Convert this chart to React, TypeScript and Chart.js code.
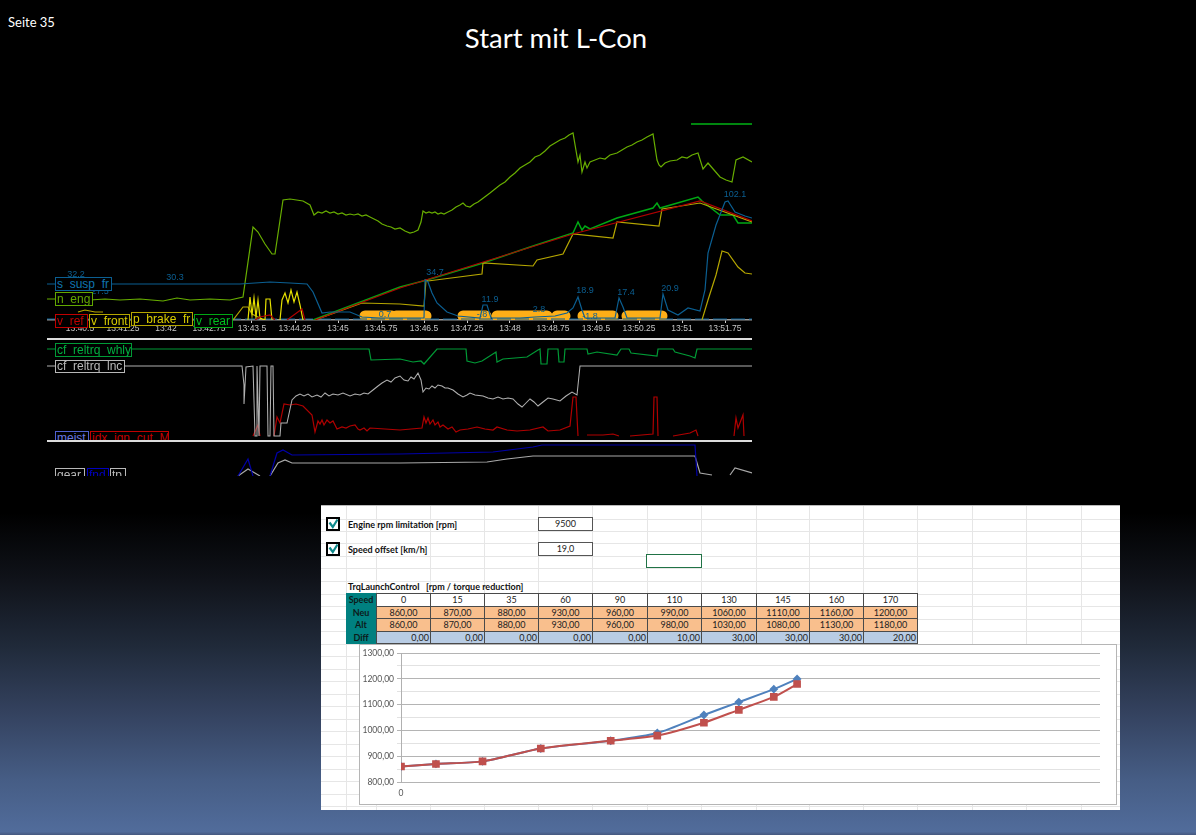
import React, { useEffect, useRef } from "react";
import { Chart, registerables } from "chart.js";

Chart.register(...registerables);

// ---------- telemetry: x = sample number along the time axis, y = channel value ----------
type P = [number, number | null];

const timeTickSamples = [80, 123, 166, 209, 252, 295, 338, 381, 424, 467, 510, 553, 596, 639, 682, 725];
const timeTickLabels = ["13:40.5", "13:41.25", "13:42", "13:42.75", "13:43.5", "13:44.25", "13:45", "13:45.75", "13:46.5", "13:47.25", "13:48", "13:48.75", "13:49.5", "13:50.25", "13:51", "13:51.75"];

const nEng: P[] = [[47,21],[60,21],[75,22],[90,20],[105,21],[120,20],[140,21],[163,19],[177,22],[190,20],[210,21],[230,20],[243,23],[253,93],[258,88],[265,76],[272,66],[275,66],[283,120],[290,121],[303,119],[310,115],[314,105],[318,108],[322,107],[326,109],[330,107],[334,108],[338,106],[342,107],[346,105],[350,106],[354,105],[358,106],[362,104],[366,105],[370,103],[374,101],[378,99],[382,96],[387,94],[391,93],[395,91],[400,92],[405,89],[410,87],[414,88],[418,90],[421,98],[423,109],[426,107],[429,108],[432,107],[435,108],[438,106],[441,107],[444,106],[448,108],[452,110],[456,113],[460,115],[463,117],[466,114],[470,113],[474,116],[478,118],[482,121],[486,124],[490,127],[495,131],[500,135],[505,138],[510,143],[515,147],[520,152],[525,155],[530,158],[535,163],[540,165],[545,169],[550,174],[555,177],[560,180],[565,182],[569,185],[573,187],[578,158],[580,165],[582,148],[585,158],[587,152],[590,158],[595,160],[600,162],[605,161],[610,165],[617,167],[622,170],[627,173],[632,175],[637,178],[642,180],[647,183],[653,186],[657,160],[659,155],[661,153],[665,157],[670,159],[677,160],[682,163],[687,162],[692,165],[698,167],[703,151],[708,157],[714,150],[720,143],[726,140],[732,138],[736,160],[743,163],[752,158]];
const sSuspFr: P[] = [[47,36],[120,36],[175,36],[240,36],[270,38],[290,37],[307,36],[313,28],[322,7],[330,8],[350,8],[362,3],[380,2],[400,2],[420,2],[424,2],[425,40],[428,38],[432,27],[437,17],[447,8],[458,4],[480,2],[483,15],[487,15],[491,2],[520,2],[535,3],[555,4],[567,7],[573,12],[578,23],[582,10],[585,2],[615,2],[619,22],[623,13],[627,2],[660,2],[663,26],[668,10],[678,5],[688,12],[700,9],[705,30],[708,67],[716,95],[725,118],[728,119],[735,108],[745,104],[752,102]];
const vRear: P[] = [[313,0],[400,33],[427,40],[483,57],[530,73],[573,87],[578,98],[582,90],[585,94],[590,91],[617,102],[653,112],[657,117],[660,112],[698,123],[702,119],[720,105],[733,105],[738,97],[752,97]];
const vRearHigh: P[] = [[691,196],[752,196]];
const vRef: P[] = [[255,0],[260,3],[270,5],[275,0],[276,null],[287,0],[302,11],[305,0],[306,null],[315,0],[400,32],[573,86],[700,119],[752,99]];
const vFront: P[] = [[315,0],[362,17],[400,16],[424,14],[426,40],[428,39],[482,46],[483,57],[533,54],[537,60],[563,66],[573,86],[613,82],[617,98],[659,94],[662,111],[700,117],[752,98]];
const pBrakeFr: P[] = [[248,0],[250,23],[252,5],[254,22],[256,3],[258,20],[260,2],[265,0],[266,21],[270,21],[272,0],[273,null],[280,0],[282,20],[285,27],[288,17],[291,30],[294,18],[297,28],[300,15],[303,0]];
const lowOlive: P[] = [[78,8],[85,10],[95,8],[103,8],[104,null],[233,0],[243,13],[248,13],[252,6],[262,1],[263,null],[702,0],[708,20],[716,45],[722,69],[728,67],[738,53],[745,47],[752,46]];
const shiftActive: P[] = [[365,4],[392,4],[393,null],[396,4],[426,4],[427,null],[463,4],[486,4],[487,null],[497,4],[547,4],[548,null],[557,4],[565,4],[566,null],[583,4],[613,4],[614,null],[627,4],[662,4]];
const suspZero: P[] = [[47,1],[752,1]];

const peakSamples = [76, 100, 175, 435, 490, 585, 626, 670, 735, 539, 590, 385, 482];
const peakValues = [45, 28, 42, 47, 20, 29, 27, 31, 125, 10, 3, 5, 5];
const peakTexts = ["32.2", "27.5", "30.3", "34.7", "11.9", "18.9", "17.4", "20.9", "102.1", "2.8", "-1.8", "0.7", "-.8"];

const cfWhly: P[] = [[47,91],[369,91],[371,80],[400,81],[413,78],[421,79],[424,76],[437,91],[466,91],[467,79],[475,77],[482,79],[496,88],[497,78],[503,81],[527,83],[538,90],[540,91],[541,76],[547,76],[548,91],[558,91],[559,78],[564,78],[565,91],[587,91],[588,86],[597,88],[617,85],[621,91],[629,91],[631,87],[657,84],[658,91],[673,91],[675,88],[690,84],[695,82],[697,91],[752,91]];
const cfLnc: P[] = [[47,74],[242,74],[244,55],[244,36],[246,73],[253,74],[255,4],[257,4],[257,74],[259,4],[260,74],[267,74],[268,4],[270,4],[271,74],[273,74],[274,4],[280,4],[281,17],[287,17],[292,40],[296,44],[300,46],[304,44],[308,46],[312,43],[317,45],[321,43],[325,47],[329,44],[333,46],[338,45],[343,47],[350,44],[355,46],[360,45],[364,47],[368,46],[373,50],[378,54],[382,57],[387,60],[391,58],[395,62],[400,64],[404,60],[408,59],[411,63],[414,61],[418,67],[421,60],[423,48],[426,52],[429,51],[432,54],[435,52],[438,55],[442,54],[445,52],[448,52],[453,50],[458,46],[463,43],[467,45],[470,47],[475,45],[483,44],[488,42],[493,41],[498,43],[503,41],[508,42],[513,41],[518,36],[522,33],[526,37],[530,41],[534,38],[538,34],[543,38],[548,42],[553,41],[560,39],[566,44],[572,48],[577,45],[580,74],[752,74]];
const idxIgnCut: P[] = [[253,4],[258,15],[260,4],[261,null],[274,4],[277,23],[280,17],[284,36],[290,35],[296,36],[303,34],[312,25],[315,8],[318,19],[320,16],[322,20],[324,15],[327,20],[330,17],[333,19],[337,11],[342,13],[346,12],[350,14],[355,15],[358,11],[360,10],[364,12],[367,9],[370,12],[385,11],[400,10],[422,12],[424,23],[426,17],[428,22],[430,16],[433,20],[435,15],[438,18],[440,13],[443,15],[448,11],[452,13],[456,8],[460,10],[468,11],[477,13],[485,11],[493,10],[497,13],[507,10],[517,9],[530,10],[543,13],[548,9],[560,10],[570,14],[573,43],[576,43],[578,4],[579,null],[587,5],[603,5],[613,6],[619,4],[620,null],[630,4],[653,6],[654,43],[657,43],[658,4],[659,null],[673,4],[690,7],[696,10],[698,4],[699,null],[734,4],[736,22],[738,12],[743,25],[744,4]];

const fnd: P[] = [[238,0],[248,17],[253,0],[254,null],[270,0],[277,23],[283,26],[292,21],[400,22],[493,24],[533,29],[542,31],[695,31],[697,0]];
const gear: P[] = [[238,0],[248,7],[260,0],[261,null],[270,0],[278,13],[285,16],[292,13],[400,13],[487,14],[507,17],[533,20],[695,20],[700,3],[712,1],[713,null],[730,1],[735,8],[752,3]];

// ---------- spreadsheet ----------
const speeds = [0, 15, 35, 60, 90, 110, 130, 145, 160, 170];
const neu = [860, 870, 880, 930, 960, 990, 1060, 1110, 1160, 1200];
const alt = [860, 870, 880, 930, 960, 980, 1030, 1080, 1130, 1180];
const diff = [0, 0, 0, 0, 0, 10, 30, 30, 30, 20];

const comma = (v: number) => v.toFixed(2).replace(".", ",");
const toPts = (a: P[]) => a.map(([x, y]) => ({ x, y }));

const line = (label: string, data: P[], color: string, width = 1.2, extra: object = {}) => ({
  label,
  data: toPts(data),
  borderColor: color,
  borderWidth: width,
  pointRadius: 0,
  tension: 0,
  spanGaps: false,
  ...extra,
});

const baseOptions = (yMax: number, showAxis: boolean) => ({
  responsive: false,
  animation: false as const,
  events: [] as never[],
  layout: { padding: 0 },
  plugins: { legend: { display: false }, tooltip: { enabled: false } },
  scales: {
    x: {
      type: "linear" as const,
      min: 47,
      max: 752,
      display: showAxis,
      border: { color: "#9a9a9a", width: 1.5 },
      grid: { drawOnChartArea: false, color: "#cfcfcf", tickLength: 3, drawTicks: true },
      afterBuildTicks: (s: any) => {
        s.ticks = timeTickSamples.map((value) => ({ value }));
      },
      afterFit: (s: any) => {
        if (showAxis) s.height = 18;
      },
      ticks: {
        autoSkip: false,
        maxRotation: 0,
        padding: 1,
        color: "#c8c8c8",
        font: { family: "Liberation Sans", size: 8.5 },
        callback: (v: number) => timeTickLabels[timeTickSamples.indexOf(v)] ?? "",
      },
    },
    y: { type: "linear" as const, min: 0, max: yMax, display: false },
  },
});

const peakLabelPlugin = {
  id: "peakLabels",
  afterDatasetsDraw(chart: any) {
    const { ctx, scales } = chart;
    ctx.save();
    ctx.fillStyle = "#0b5f92";
    ctx.font = "9px 'Liberation Sans'";
    ctx.textAlign = "center";
    ctx.textBaseline = "middle";
    peakTexts.forEach((t, i) => {
      ctx.fillText(t, scales.x.getPixelForValue(peakSamples[i]), scales.y.getPixelForValue(peakValues[i]));
    });
    ctx.restore();
  },
};

function useChart(build: (c: HTMLCanvasElement) => Chart) {
  const ref = useRef<HTMLCanvasElement>(null);
  useEffect(() => {
    const chart = build(ref.current as HTMLCanvasElement);
    return () => chart.destroy();
  }, []);
  return ref;
}

const abs = (left: number, top: number, width: number, height: number): React.CSSProperties => ({
  position: "absolute", left, top, width, height,
});

function Tag({ x, y, w, h, color, text, textColor }: { x: number; y: number; w: number; h: number; color: string; text: string; textColor?: string }) {
  return (
    <div style={{
      ...abs(x, y, w, h), boxSizing: "border-box", border: `1px solid ${color}`, background: "#000",
      color: textColor ?? color, font: "12px 'Liberation Sans'",
      lineHeight: `${h - 2}px`, paddingLeft: 1, whiteSpace: "nowrap", overflow: "hidden",
    }}>{text}</div>
  );
}

function Check({ y }: { y: number }) {
  return (
    <svg style={abs(326, y, 14, 14)} viewBox="0 0 14 14">
      <rect x="1" y="1" width="12" height="12" fill="#fff" stroke="#000" strokeWidth="2" />
      <path d="M3.5 5.5 L6.8 10 L11.5 2.5" fill="none" stroke="#0f8a8c" strokeWidth="2.2" />
    </svg>
  );
}

const colXs = [376, 430, 484, 538, 592, 647, 701, 756, 809, 863, 917];
const sheetCols = [346, 376, 430, 484, 538, 592, 647, 701, 756, 809, 863, 917, 972, 1026, 1081];
const sheetRows = [518, 530, 542, 555, 567, 580, 593, 605, 618, 630, 643, 655, 668, 680, 693, 705, 718, 730, 743, 755, 768, 780, 793, 805];
const rowTops = [593, 605.5, 618, 630.5];

function Cell({ x, w, y, text, bg, right, bold }: { x: number; w: number; y: number; text: string; bg: string; right?: boolean; bold?: boolean }) {
  return (
    <div style={{
      ...abs(x, y, w + 1, 13.5), boxSizing: "border-box", background: bg, border: "1px solid #4a4a4a",
      font: `${bold ? 700 : 400} 9px Lato`, lineHeight: "11.5px", color: "#222",
      textAlign: right ? "right" : "center", paddingRight: right ? 1 : 0,
    }}>{text}</div>
  );
}

export default function App() {
  const p1 = useChart((c) => new Chart(c, {
    type: "line",
    data: {
      datasets: [
        line("shift", shiftActive, "#fdae17", 11, { borderCapStyle: "round", order: 9 }),
        line("susp_zero", suspZero, "#0b5f92", 1, { borderDash: [14, 4], order: 8 }),
        line("n_eng", nEng, "#68ae00", 1.2, { order: 5 }),
        line("s_susp_fr", sSuspFr, "#0b5f92", 1.2, { order: 1 }),
        line("low_olive", lowOlive, "#b5a600", 1.2, { order: 4 }),
        line("v_front", vFront, "#b5a600", 1.2, { order: 3 }),
        line("v_rear", vRear, "#00a814", 1.5, { order: 3 }),
        line("v_rear_high", vRearHigh, "#00b414", 1.5, { order: 3 }),
        line("v_ref", vRef, "#b00000", 1.2, { order: 2 }),
        line("p_brake_fr", pBrakeFr, "#e6e000", 1.2, { order: 2 }),
      ],
    } as any,
    options: baseOptions(200, true) as any,
    plugins: [peakLabelPlugin],
  }));
  const p2 = useChart((c) => new Chart(c, {
    type: "line",
    data: {
      datasets: [
        line("cf_reltrq_whly", cfWhly, "#009a36"),
        line("cf_reltrq_lnc", cfLnc, "#b0b0b0", 1.05),
        line("idx_ign_cut_M", idxIgnCut, "#b00000"),
      ],
    } as any,
    options: baseOptions(99, false) as any,
  }));
  const p3 = useChart((c) => new Chart(c, {
    type: "line",
    data: {
      datasets: [
        line("fnd", fnd, "#0000a8"),
        line("gear", gear, "#a8a8a8"),
      ],
    } as any,
    options: baseOptions(34, false) as any,
  }));
  const xl = useChart((c) => new Chart(c, {
    type: "line",
    data: {
      datasets: [
        { label: "Alt", order: 0, data: speeds.map((x, i) => ({ x, y: alt[i] })), borderColor: "#c0504d", backgroundColor: "#c0504d", borderWidth: 2, pointStyle: "rect", pointRadius: 4, tension: 0.25 },
        { label: "Neu", order: 1, data: speeds.map((x, i) => ({ x, y: neu[i] })), borderColor: "#4f81bd", backgroundColor: "#4f81bd", borderWidth: 2, pointStyle: "rectRot", pointRadius: 3, tension: 0.25 },
      ],
    } as any,
    options: {
      responsive: false,
      animation: false,
      events: [],
      layout: { padding: { left: 0, right: 16, top: 8, bottom: 0 } },
      plugins: { legend: { display: false }, tooltip: { enabled: false } },
      scales: {
        x: {
          type: "linear", min: 0, max: 300,
          grid: { display: false, drawTicks: false },
          border: { display: false },
          afterBuildTicks: (s: any) => { s.ticks = [{ value: 0 }]; },
          afterFit: (s: any) => { s.height = 21; },
          ticks: { color: "#555", padding: 6, font: { family: "Lato", size: 8.5 }, maxRotation: 0, callback: (v: number) => String(v) },
        },
        y: {
          type: "linear", min: 800, max: 1300,
          afterFit: (s: any) => { s.width = 41; },
          border: { color: "#b0b0b0" },
          grid: {
            color: (c: any) => (c.tick.value % 100 === 0 ? "#b4b4b4" : "#e2e2e2"),
            tickLength: 4,
          },
          ticks: { stepSize: 50, autoSkip: false, color: "#555", padding: 3, font: { family: "Lato", size: 8.5 },
            callback: (v: number) => (v % 100 === 0 ? comma(v) : "") },
        },
      },
    } as any,
  }));

  return (
    <div style={{
      position: "fixed", left: 0, top: 0, width: 1196, height: 835, overflow: "hidden",
      background: "linear-gradient(180deg,#000 0%,#000 61.4%,#10131a 69.5%,#202a3a 77.5%,#34425f 85.4%,#465d85 93.4%,#516c9b 99.6%,#45587f 100%)",
    }}>
      <div style={{ position: "absolute", left: 8, top: 14, color: "#fff", font: "13px Lato" }}>Seite 35</div>
      <div style={{ position: "absolute", left: 356, width: 400, top: 21, textAlign: "center", color: "#fff", font: "27.5px Lato" }}>Start mit L-Con</div>

      <div style={{ ...abs(0, 0, 1196, 835), filter: "blur(0.35px)" }}>
        <canvas ref={p1} width={705} height={218} style={{ ...abs(47, 120, 705, 218), display: "block" }} />
        <div style={{ ...abs(47, 338, 705, 2), background: "#dcdcdc" }} />
        <canvas ref={p2} width={705} height={99} style={{ ...abs(47, 341, 705, 99), display: "block" }} />
        <div style={{ ...abs(47, 440, 705, 2), background: "#dcdcdc" }} />
        <canvas ref={p3} width={705} height={34} style={{ ...abs(47, 442, 705, 34), display: "block" }} />

        <Tag x={55} y={277} w={57} h={14} color="#0b5f92" textColor="#0f75b0" text="s_susp_fr" />
        <Tag x={55} y={292} w={38} h={14} color="#62a800" text="n_eng" />
        <Tag x={55} y={314} w={33} h={14} color="#c00000" text="v_ref" />
        <Tag x={89} y={314} w={41} h={14} color="#b5a600" textColor="#d8cc00" text="v_front" />
        <Tag x={131} y={312} w={62} h={14} color="#b5a600" textColor="#d8cc00" text="p_brake_fr" />
        <Tag x={194} y={314} w={39} h={14} color="#00a814" textColor="#00c020" text="v_rear" />
        <Tag x={55} y={343} w={77} h={14} color="#009a36" textColor="#00b040" text="cf_reltrq_whly" />
        <Tag x={55} y={360} w={70} h={13} color="#b8b8b8" text="cf_reltrq_lnc" />
        <div style={{ ...abs(47, 431, 300, 9), overflow: "hidden" }}>
          <Tag x={8} y={0} w={34} h={14} color="#5060d0" textColor="#6a78e0" text="meist" />
          <Tag x={43} y={0} w={79} h={14} color="#c00000" text="idx_ign_cut_M" />
        </div>
        <div style={{ ...abs(47, 468, 300, 8), overflow: "hidden" }}>
          <Tag x={8} y={0} w={30} h={14} color="#b8b8b8" text="gear" />
          <Tag x={40} y={0} w={22} h={14} color="#0000c0" text="fnd" />
          <Tag x={63} y={0} w={16} h={14} color="#b8b8b8" text="tp" />
        </div>
      </div>

      {/* spreadsheet */}
      <div style={{ ...abs(0, 0, 1196, 835), filter: "blur(0.25px)" }}>
        <div style={{ ...abs(321, 505, 799, 305), background: "#fff", overflow: "hidden", borderTop: "1px solid #bbb", boxSizing: "border-box" }}>
          {sheetCols.map((x) => <div key={x} style={{ ...abs(x - 321, 0, 1, 305), background: "#e6e6e6" }} />)}
          {sheetRows.map((y) => <div key={y} style={{ ...abs(0, y - 505, 799, 1), background: "#e6e6e6" }} />)}
        </div>
        <Check y={517} />
        <Check y={542} />
        <div style={{ position: "absolute", left: 348, top: 518, font: "700 9px Lato", color: "#111", lineHeight: "13px" }}>Engine rpm limitation [rpm]</div>
        <div style={{ position: "absolute", left: 348, top: 543, font: "700 9px Lato", color: "#111", lineHeight: "13px" }}>Speed offset [km/h]</div>
        {[["9500", 517], ["19,0", 542]].map(([t, y]) => (
          <div key={t} style={{ ...abs(538, y as number, 55, 14), boxSizing: "border-box", background: "#fff", border: "1px solid #555", font: "9px Lato", lineHeight: "12px", textAlign: "center", color: "#222" }}>{t}</div>
        ))}
        <div style={{ ...abs(646, 554, 56, 14), boxSizing: "border-box", background: "#fff", border: "1px solid #217346" }} />
        <div style={{ position: "absolute", left: 348, top: 581, font: "700 9px Lato", color: "#111", lineHeight: "12px", whiteSpace: "pre" }}>TrqLaunchControl   [rpm / torque reduction]</div>

        {["Speed", "Neu", "Alt", "Diff"].map((t, i) => (
          <div key={t} style={{ ...abs(346, rowTops[i], 30, 13), background: "#008080", font: "700 9px Lato", lineHeight: "13px", color: "#0c1a1a", textAlign: "center" }}>{t}</div>
        ))}
        {speeds.map((s, i) => {
          const x = colXs[i];
          const w = colXs[i + 1] - x;
          return (
            <React.Fragment key={s}>
              <Cell x={x} w={w} y={rowTops[0]} text={String(s)} bg="#fff" />
              <Cell x={x} w={w} y={rowTops[1]} text={comma(neu[i])} bg="#f9bf8d" />
              <Cell x={x} w={w} y={rowTops[2]} text={comma(alt[i])} bg="#f9bf8d" />
              <Cell x={x} w={w} y={rowTops[3]} text={comma(diff[i])} bg="#b8cce4" right />
            </React.Fragment>
          );
        })}

        <div style={{ ...abs(359, 644, 758, 161), boxSizing: "border-box", background: "#fff", border: "1px solid #b5b5b5" }} />
        <canvas ref={xl} width={756} height={158} style={{ ...abs(360, 645, 756, 158), display: "block" }} />
      </div>
    </div>
  );
}
